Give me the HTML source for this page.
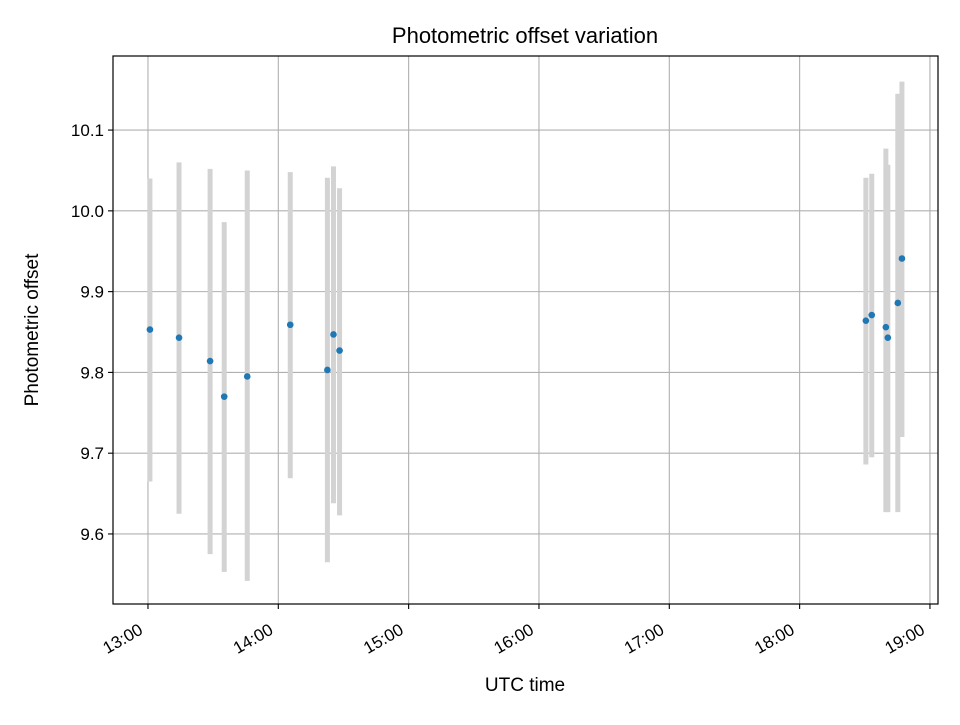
<!DOCTYPE html>
<html><head><meta charset="utf-8"><style>
body{margin:0;background:#fff;}
svg text{font-family:"Liberation Sans","DejaVu Sans",sans-serif;}
</style></head><body>
<svg id="chart" width="960" height="720" xmlns="http://www.w3.org/2000/svg">
<rect width="960" height="720" fill="#fff"/>
<g id="grid"></g>
<g id="bars"></g>
<g id="pts"></g>
<rect x="113" y="56" width="825" height="548" fill="none" stroke="#000" stroke-width="1.2"/>
<g id="ticks"></g>
<text x="525" y="43" text-anchor="middle" font-size="22">Photometric offset variation</text>
<text x="525" y="691" text-anchor="middle" font-size="19">UTC time</text>
<text transform="translate(38,330) rotate(-90)" text-anchor="middle" font-size="19">Photometric offset</text>
</svg>
<script>
// minutes after 13:00 UTC
const times = [0.9, 14.3, 28.6, 35.1, 45.7, 65.5, 82.6, 85.4, 88.2, 330.5, 333.2, 339.7, 340.6, 345.2, 347.1];
const offsets = [9.853, 9.843, 9.814, 9.770, 9.795, 9.859, 9.803, 9.847, 9.827, 9.864, 9.871, 9.856, 9.843, 9.886, 9.941];
const upper = [10.040, 10.060, 10.052, 9.986, 10.050, 10.048, 10.041, 10.055, 10.028, 10.041, 10.046, 10.077, 10.057, 10.145, 10.160];
const lower = [9.665, 9.625, 9.575, 9.553, 9.542, 9.669, 9.565, 9.638, 9.623, 9.686, 9.695, 9.627, 9.627, 9.627, 9.720];
const xTickMinutes = [0, 60, 120, 180, 240, 300, 360];
const xTickLabels = ["13:00", "14:00", "15:00", "16:00", "17:00", "18:00", "19:00"];
const yTicks = [9.6, 9.7, 9.8, 9.9, 10.0, 10.1];
const yTickLabels = ["9.6", "9.7", "9.8", "9.9", "10.0", "10.1"];

const X0=113,X1=938,Y0=56,Y1=604;
const xMin=-16.1,xMax=363.7,yMin=9.5133,yMax=10.1917;
const xs=m=>X0+(m-xMin)/(xMax-xMin)*(X1-X0);
const ys=v=>Y1-(v-yMin)/(yMax-yMin)*(Y1-Y0);
const NS="http://www.w3.org/2000/svg";
function mk(tag,attrs,parent,txt){const e=document.createElementNS(NS,tag);for(const k in attrs)e.setAttribute(k,attrs[k]);if(txt!==undefined)e.textContent=txt;document.getElementById(parent).appendChild(e);return e;}

xTickMinutes.forEach((m,i)=>{
  const x=xs(m);
  const g=mk('line',{x1:x,x2:x,y1:Y0,y2:Y1,stroke:'#b0b0b0','stroke-width':1.1},'grid');
  
  
  const t=mk('line',{x1:x,x2:x,y1:Y1,y2:Y1+5,stroke:'#000','stroke-width':1.1},'ticks');
  
  
  const l=mk('text',{transform:`translate(${x-4},${Y1+29}) rotate(-30)`,'text-anchor':'end','font-size':17},'ticks',xTickLabels[i]);
  
  
});
yTicks.forEach((v,i)=>{
  const y=ys(v);
  const g=mk('line',{x1:X0,x2:X1,y1:y,y2:y,stroke:'#b0b0b0','stroke-width':1.1},'grid');
  
  
  const t=mk('line',{x1:X0-5,x2:X0,y1:y,y2:y,stroke:'#000','stroke-width':1.1},'ticks');
  
  
  const l=mk('text',{x:X0-9,y:y+6,'text-anchor':'end','font-size':17},'ticks',yTickLabels[i]);
  
  
});
times.forEach((m,i)=>{
  const x=xs(m);
  const b=mk('line',{x1:x,x2:x,y1:ys(upper[i]),y2:ys(lower[i]),stroke:'#d3d3d3','stroke-width':5},'bars');
  
  
});
times.forEach((m,i)=>{
  const p=mk('circle',{cx:xs(m),cy:ys(offsets[i]),r:3.3,fill:'#1f77b4'},'pts');
  
  
});
</script>
</body></html>
